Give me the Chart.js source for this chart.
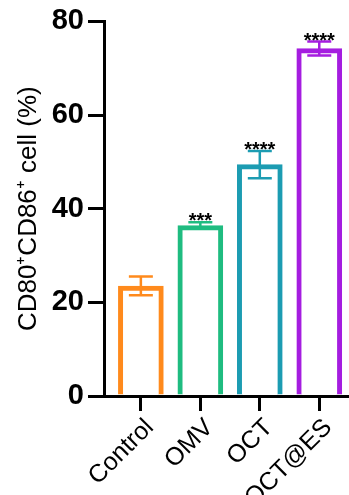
<!DOCTYPE html>
<html>
<head>
<meta charset="utf-8">
<script src="https://cdn.jsdelivr.net/npm/chart.js@4/dist/chart.umd.min.js"></script>
<style>
  body { margin: 0; background: #fff; }
  #wrap { width: 349px; height: 495px; position: relative; }
</style>
</head>
<body>
<div id="wrap"><canvas id="cd80Chart"></canvas></div>
<script>
// data
const groups = ['Control', 'OMV', 'OCT', 'OCT@ES'];
const means = [23.5, 36.4, 49.4, 74.2];
const sds = [2.0, 0.7, 2.9, 1.5];
const stars = ['', '***', '****', '****'];
const barColors = ['#FF8A1C', '#1FBC80', '#1C9CB2', '#A51DE0'];
const yTicks = [0, 20, 40, 60, 80];

// error bars + significance stars
const errorBarPlugin = {
    id: 'errorBars',
    afterDatasetsDraw(chart) {
        const ctx = chart.ctx;
        const xs = chart.scales.x;
        const ys = chart.scales.y;
        ctx.save();
        means.forEach((m, i) => {
            const x = xs.getPixelForValue(i);
            const top = ys.getPixelForValue(m + sds[i]);
            const bot = ys.getPixelForValue(m - sds[i]);
            ctx.strokeStyle = barColors[i];
            ctx.lineWidth = 2.5;
            ctx.beginPath();
            ctx.moveTo(x, top); ctx.lineTo(x, bot);
            ctx.moveTo(x - 12, top); ctx.lineTo(x + 12, top);
            ctx.moveTo(x - 12, bot); ctx.lineTo(x + 12, bot);
            ctx.stroke();
            if (stars[i]) {
                ctx.fillStyle = '#000';
                ctx.font = 'bold 20px "Liberation Sans", Arial, sans-serif';
                ctx.textAlign = 'center';
                ctx.textBaseline = 'alphabetic';
                ctx.fillText(stars[i], x, top + 5);
            }
        });
        ctx.restore();
    }
};

const ctx = document.getElementById('cd80Chart').getContext('2d');
new Chart(ctx, {
    type: 'bar',
    data: {
        datasets: [{
            data: means.map((v, i) => ({ x: i, y: v })),
            backgroundColor: '#fff',
            borderColor: barColors,
            borderWidth: 5,
            barThickness: 45
        }]
    },
    options: {
        responsive: true,
        maintainAspectRatio: false,
        animation: false,
        layout: { padding: { top: 18, right: 0, left: 0, bottom: 0 } },
        plugins: { legend: { display: false }, tooltip: { enabled: false } },
        scales: {
            x: {
                type: 'linear',
                min: -0.62,
                max: 3.5,
                offset: false,
                afterBuildTicks: s => {
                    s.ticks = groups.map((g, i) => ({ value: i }));
                },
                afterFit: s => { s.height = 99; },
                ticks: {
                    autoSkip: false,
                    maxRotation: 45,
                    minRotation: 45,
                    color: '#000',
                    padding: 2,
                    labelOffset: 9,
                    font: { family: '"Liberation Sans", Arial, sans-serif', size: 25 },
                    callback: v => groups[v]
                },
                grid: { offset: false, drawOnChartArea: false, color: '#000', lineWidth: 3, tickLength: 15 },
                border: { color: '#000', width: 3 }
            },
            y: {
                min: 0,
                max: 80,
                afterBuildTicks: s => { s.ticks = yTicks.map(v => ({ value: v })); },
                afterFit: s => { s.width = 104; },
                ticks: {
                    color: '#000',
                    padding: 4,
                    font: { family: '"Liberation Sans", Arial, sans-serif', size: 29, weight: 'bold' }
                },
                grid: { drawOnChartArea: false, color: '#000', lineWidth: 3, tickLength: 16 },
                border: { color: '#000', width: 3 },
                title: {
                    display: true,
                    text: 'CD80\u207ACD86\u207A cell (%)',
                    color: '#000',
                    padding: { top: 13, bottom: 4 },
                    font: { family: '"Liberation Sans", Arial, sans-serif', size: 26 }
                }
            }
        }
    },
    plugins: [errorBarPlugin]
});
</script>
</body>
</html>
